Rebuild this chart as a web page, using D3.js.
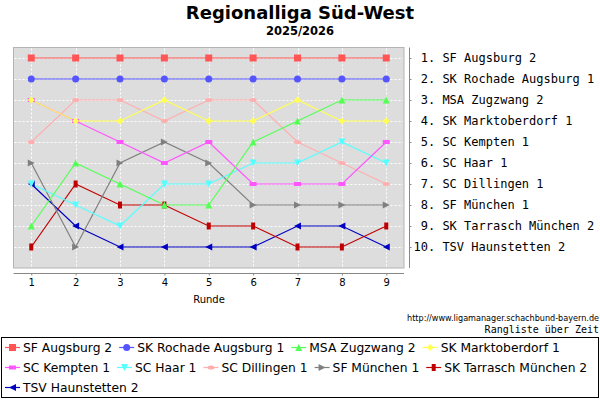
<!DOCTYPE html>
<html>
<head>
<meta charset="utf-8">
<title>Regionalliga Süd-West - Rangliste über Zeit</title>
<script src="https://cdnjs.cloudflare.com/ajax/libs/d3/7.8.5/d3.min.js"></script>
<style>
  body { margin: 0; background: #fff; }
  svg { display: block; }
  text { font-family: "DejaVu Sans", sans-serif; }
  .mono { font-family: "DejaVu Sans Mono", monospace; white-space: pre; }
</style>
</head>
<body>
<svg id="chart" width="600" height="400"></svg>
<script>
// rounds on the x axis
var rounds = [1, 2, 3, 4, 5, 6, 7, 8, 9];

// team names (final order)
var teams = ["SF Augsburg 2", "SK Rochade Augsburg 1", "MSA Zugzwang 2", "SK Marktoberdorf 1",
  "SC Kempten 1", "SC Haar 1", "SC Dillingen 1", "SF München 1", "SK Tarrasch München 2",
  "TSV Haunstetten 2"];

// rank after each round
var sfAugsburg      = [1, 1, 1, 1, 1, 1, 1, 1, 1];
var skRochade       = [2, 2, 2, 2, 2, 2, 2, 2, 2];
var msaZugzwang     = [9, 6, 7, 8, 8, 5, 4, 3, 3];
var skMarktoberdorf = [3, 4, 4, 3, 4, 4, 3, 4, 4];
var scKempten       = [3, 4, 5, 6, 5, 7, 7, 7, 5];
var scHaar          = [7, 8, 9, 7, 7, 6, 6, 5, 6];
var scDillingen     = [5, 3, 3, 4, 3, 3, 5, 6, 7];
var sfMuenchen      = [6, 10, 6, 5, 6, 8, 8, 8, 8];
var skTarrasch      = [10, 7, 8, 8, 9, 9, 10, 10, 9];
var tsvHaunstetten  = [7, 9, 10, 10, 10, 10, 9, 9, 10];

var rankLists = [sfAugsburg, skRochade, msaZugzwang, skMarktoberdorf, scKempten,
  scHaar, scDillingen, sfMuenchen, skTarrasch, tsvHaunstetten];

var colors = ["#ff5555", "#5555ff", "#55ff55", "#ffff55", "#ff55ff",
  "#55ffff", "#ffafaf", "#808080", "#c00000", "#0000c0"];
var shapes = ["square", "circle", "up", "diamond", "hrect",
  "down", "ellipse", "right", "vrect", "left"];

var series = teams.map(function (t, i) {
  return { name: t, color: colors[i], shape: shapes[i],
    values: rounds.map(function (r, j) { return { round: r, rank: rankLists[i][j] }; }) };
});

var svg = d3.select("#chart");

// marker path centred on 0,0
function shapePath(type) {
  var s = 3.5;
  switch (type) {
    case "square": return "M" + -s + "," + -s + "h" + 2 * s + "v" + 2 * s + "h" + -2 * s + "Z";
    case "circle": return d3.symbol().type(d3.symbolCircle).size(Math.PI * s * s)();
    case "up": return "M0," + -s + "L" + s + "," + s + "L" + -s + "," + s + "Z";
    case "down": return "M0," + s + "L" + s + "," + -s + "L" + -s + "," + -s + "Z";
    case "right": return "M" + s + ",0L" + -s + "," + -s + "L" + -s + "," + s + "Z";
    case "left": return "M" + -s + ",0L" + s + "," + -s + "L" + s + "," + s + "Z";
    case "diamond": return "M0," + -s + "L" + s + ",0L0," + s + "L" + -s + ",0Z";
    case "hrect": return "M" + -s + "," + -2 + "h" + 2 * s + "v4h" + -2 * s + "Z";
    case "vrect": return "M-2," + -s + "h4v" + 2 * s + "h-4Z";
    case "ellipse": return "M" + -s + ",0a" + s + ",2 0 1,0 " + 2 * s + ",0a" + s + ",2 0 1,0 " + -2 * s + ",0Z";
  }
}

// title
svg.append("text").attr("x", 300).attr("y", 18.5).attr("text-anchor", "middle")
  .style("font-size", "18px").style("font-weight", "bold").text("Regionalliga Süd-West");
svg.append("text").attr("x", 300).attr("y", 35).attr("text-anchor", "middle")
  .style("font-size", "11.5px").style("font-weight", "bold").text("2025/2026");

// plot area
var plotL = 13.5, plotR = 404, plotT = 47.5, plotB = 268;
var x = d3.scaleLinear().domain([0.6, 9.4]).range([plotL, plotR]);
var y = d3.scaleLinear().domain([0.5, 11]).range([plotT, plotB]);

svg.append("rect").attr("x", plotL).attr("y", plotT)
  .attr("width", plotR - plotL).attr("height", plotB - plotT)
  .attr("fill", "#dddddd").attr("stroke", "#b4b4b4");

var grid = svg.append("g").attr("stroke", "#ffffff").attr("stroke-width", 1)
  .attr("stroke-dasharray", "2,2");
grid.selectAll(".gx").data(rounds).enter().append("line")
  .attr("x1", function (d) { return Math.round(x(d)) + 0.5; })
  .attr("x2", function (d) { return Math.round(x(d)) + 0.5; })
  .attr("y1", plotT + 1).attr("y2", plotB - 1);
grid.selectAll(".gy").data(d3.range(1, 11)).enter().append("line")
  .attr("y1", function (d) { return Math.round(y(d)) + 0.5; })
  .attr("y2", function (d) { return Math.round(y(d)) + 0.5; })
  .attr("x1", plotL + 1).attr("x2", plotR - 1);

// x axis
var xAxis = d3.axisBottom(x).tickValues(rounds).tickSize(2).tickPadding(3)
  .tickFormat(d3.format("d"));
var gx = svg.append("g").attr("transform", "translate(0,273.5)").call(xAxis);
gx.select(".domain").attr("stroke", "#888").attr("d", "M" + plotL + ",0H" + plotR);
gx.selectAll(".tick line").attr("stroke", "#888");
gx.selectAll(".tick text").style("font-size", "10px").style("font-family", "DejaVu Sans")
  .attr("fill", "#000");
svg.append("text").attr("x", 209).attr("y", 302.5).attr("text-anchor", "middle")
  .style("font-size", "10px").text("Runde");

// right axis with the final standing
var yAxis = d3.axisRight(y).tickValues(d3.range(1, 11)).tickSize(2).tickPadding(2)
  .tickFormat(function (d) { return (d < 10 ? " " : "") + d + ". " + teams[d - 1]; });
var gy = svg.append("g").attr("transform", "translate(409.5,0)").call(yAxis);
gy.select(".domain").attr("stroke", "#888").attr("d", "M0," + plotT + "V" + plotB);
gy.selectAll(".tick line").attr("stroke", "#888");
gy.selectAll(".tick text").attr("class", "mono").style("font-size", "12px")
  .style("font-family", "DejaVu Sans Mono").attr("fill", "#000");

// lines, drawn in reverse order so that the first team is on top
var line = d3.line().x(function (d) { return x(d.round); }).y(function (d) { return y(d.rank); });
var rev = series.slice().reverse();
svg.append("g").selectAll("path").data(rev).enter().append("path")
  .attr("d", function (d) { return line(d.values); })
  .attr("fill", "none").attr("stroke", function (d) { return d.color; }).attr("stroke-width", 1.2);

var marks = svg.append("g").selectAll("g").data(rev).enter().append("g")
  .attr("fill", function (d) { return d.color; });
marks.selectAll("path").data(function (d) { return d.values.map(function (v) { return { v: v, shape: d.shape }; }); })
  .enter().append("path")
  .attr("transform", function (d) { return "translate(" + x(d.v.round) + "," + y(d.v.rank) + ")"; })
  .attr("d", function (d) { return shapePath(d.shape); });

// source and subtitle
svg.append("text").attr("x", 599).attr("y", 320.5).attr("text-anchor", "end")
  .style("font-size", "8.1px").text("http://www.ligamanager.schachbund-bayern.de");
svg.append("text").attr("class", "mono").attr("x", 599).attr("y", 332.5).attr("text-anchor", "end")
  .style("font-size", "10px").text("Rangliste über Zeit");

// legend box with wrapping items
svg.append("rect").attr("x", 1.5).attr("y", 337.5).attr("width", 597).attr("height", 60)
  .attr("fill", "#fff").attr("stroke", "#000");

var lx = 5, row = 0, rowY = [347.5, 367.5, 387.5];
series.forEach(function (s) {
  var g = svg.append("g");
  var t = g.append("text").attr("x", 18).attr("y", 4.5).style("font-size", "12.3px").text(s.name);
  var w = 18 + t.node().getComputedTextLength();
  if (lx + w > 597) { lx = 5; row++; }
  g.attr("transform", "translate(" + lx + "," + rowY[row] + ")");
  g.append("line").attr("x1", 0).attr("x2", 15).attr("y1", 0).attr("y2", 0)
    .attr("stroke", s.color).attr("stroke-width", 1.2);
  g.append("path").attr("transform", "translate(7.5,0)").attr("d", shapePath(s.shape))
    .attr("fill", s.color);
  lx += w + 7;
});
</script>
</body>
</html>
